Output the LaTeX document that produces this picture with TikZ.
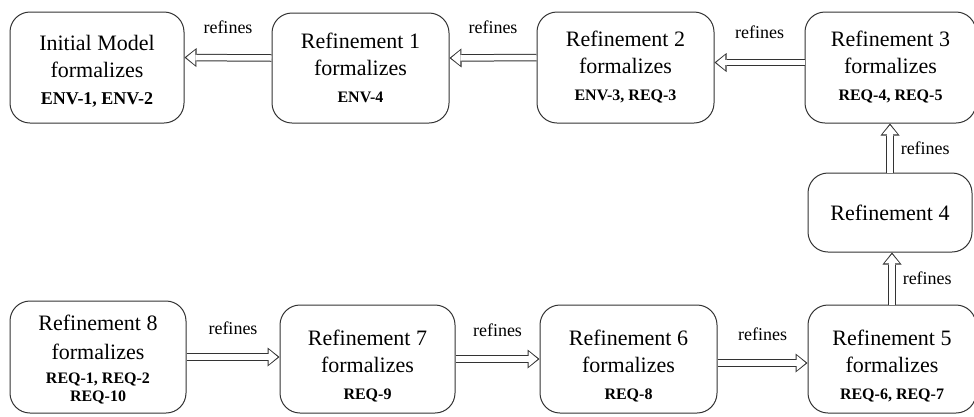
\documentclass[tikz,border=0pt]{standalone}
\usepackage{fontspec}
\setmainfont{Liberation Serif}
\usetikzlibrary{arrows.meta,positioning}

\tikzset{
  refbox/.style={draw=black!80, rounded corners=20pt, line width=1pt, align=center,
    inner sep=2pt, font=\fontsize{22}{27}\selectfont},
  refarrow/.style={draw=black!80, line width=7.5pt,
    -{Triangle[length=12pt,width=19pt,line width=0pt]},
    postaction={draw=white, line width=5.5pt, shorten >=1.8pt,
      -{Triangle[length=9pt,width=15pt,line width=0pt]}}},
  reflabel/.style={inner sep=0pt, font=\fontsize{18}{20}\selectfont},
}
\newcommand{\reqlist}[1]{{\fontsize{16}{22}\selectfont\bfseries #1}}
\newcommand{\lowline}{\rule{0pt}{29pt}}

\begin{document}
\begin{tikzpicture}[x=1pt,y=-1pt]
    \useasboundingbox (0,0) rectangle (974,416);
    % Top row
    \node[refbox, minimum width=174pt, minimum height=111pt] (init) at (97,67.5)
    {\rule{0pt}{22pt}Initial Model\\formalizes\\{\fontsize{18}{22}\selectfont\bfseries ENV-1, ENV-2}};
    \node[refbox, minimum width=177pt, minimum height=110pt] (r1) at (360.5,68)
    {Refinement 1\\formalizes\\\reqlist{ENV-4}};
    \node[refbox, minimum width=177pt, minimum height=111pt] (r2) at (625.5,67.5)
    {Refinement 2\\formalizes\\\reqlist{ENV-3, REQ-3}};
    \node[refbox, minimum width=171pt, minimum height=111pt] (r3) at (890.5,67.5)
    {Refinement 3\\formalizes\\\reqlist{REQ-4, REQ-5}};
    % Right column
    \node[refbox, minimum width=164pt, minimum height=79pt] (r4) at (890,212.5)
    {Refinement 4};
    % Bottom row
    \node[refbox, minimum width=168pt, minimum height=108pt] (r5) at (892,359)
    {\lowline Refinement 5\\formalizes\\\reqlist{REQ-6, REQ-7}};
    \node[refbox, minimum width=177pt, minimum height=108pt] (r6) at (628.5,359)
    {\lowline Refinement 6\\formalizes\\\reqlist{REQ-8}};
    \node[refbox, minimum width=175pt, minimum height=108pt] (r7) at (367.5,359)
    {\lowline Refinement 7\\formalizes\\\reqlist{REQ-9}};
    \node[refbox, minimum width=176pt, minimum height=112pt] (r8) at (98,357)
    {\rule{0pt}{21pt}Refinement 8\\[2pt]formalizes\\[-3pt]\reqlist{REQ-1, REQ-2}\\[-9pt]\reqlist{REQ-10}};

    % Refinement arrows
    \draw[refarrow] ([yshift=10pt]r1.west) -- ([yshift=10pt]init.east)
    node[reflabel, midway, above=20pt] {refines};
    \draw[refarrow] ([yshift=10pt]r2.west) -- ([yshift=10pt]r1.east)
    node[reflabel, midway, above=20pt] {refines};
    \draw[refarrow] ([yshift=5pt]r3.west) -- ([yshift=5pt]r2.east)
    node[reflabel, midway, above=20pt] {refines};
    \draw[refarrow] (r4.north) -- (r4.north |- r3.south)
    node[reflabel, midway, right=7pt] {refines};
    \draw[refarrow] (r5.north) -- (r5.north |- r4.south)
    node[reflabel, midway, right=7pt] {refines};
    \draw[refarrow] (r8.east) -- (r8.east -| r7.west)
    node[reflabel, midway, above=19pt] {refines};
    \draw[refarrow] (r7.east) -- (r6.west)
    node[reflabel, midway, above=19pt] {refines};
    \draw[refarrow] ([yshift=-4pt]r6.east) -- ([yshift=-4pt]r5.west)
    node[reflabel, midway, above=19pt] {refines};
\end{tikzpicture}
\end{document}
